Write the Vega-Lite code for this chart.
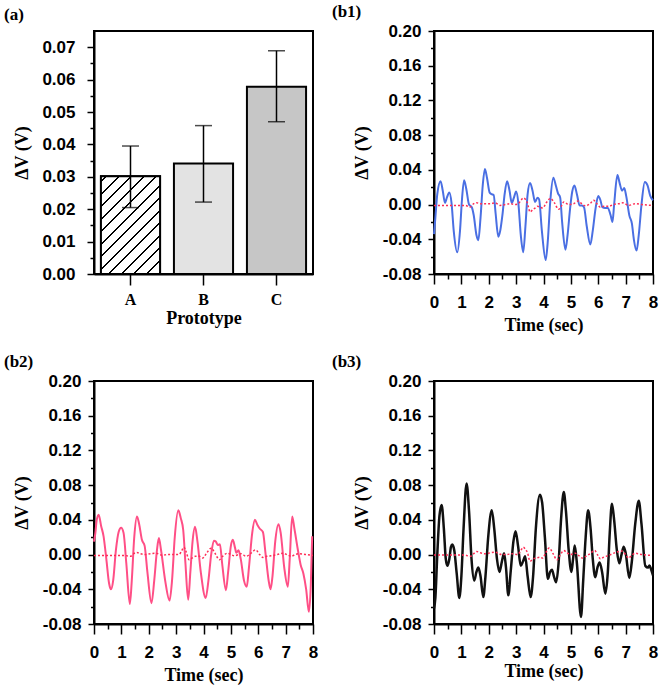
{
  "$schema": "https://vega.github.io/schema/vega-lite/v6.json",
  "bounds": "flush",
  "padding": {"left": 3, "top": 2, "right": 0, "bottom": 0},
  "columns": 2,
  "spacing": {"row": 107, "column": 121},
  "datasets": {
    "bars": [
      {"proto": "A", "mean": 0.0302, "lo": 0.0205, "hi": 0.0395},
      {"proto": "B", "mean": 0.0341, "lo": 0.0222, "hi": 0.0458},
      {"proto": "C", "mean": 0.0578, "lo": 0.0470, "hi": 0.0689}
    ],
    "snr": [
      {"panel": "b1", "label": "Signal to noise ratio: 11.89"},
      {"panel": "b2", "label": "Signal to noise ratio: 13.44"},
      {"panel": "b3", "label": "Signal to noise ratio: 22.89"}
    ],
    "b1": [
      {"t":0.00,"v":-0.034},{"t":0.05,"v":-0.015},{"t":0.12,"v":0.012},{"t":0.24,"v":0.027},{"t":0.32,"v":0.016},{"t":0.40,"v":0.002},{"t":0.47,"v":0.008},{"t":0.56,"v":0.014},{"t":0.64,"v":0.002},{"t":0.72,"v":-0.030},{"t":0.85,"v":-0.055},{"t":0.95,"v":-0.030},{"t":1.02,"v":0.005},{"t":1.10,"v":0.028},{"t":1.18,"v":0.018},{"t":1.28,"v":0.000},{"t":1.38,"v":-0.003},{"t":1.45,"v":-0.012},{"t":1.55,"v":-0.035},{"t":1.62,"v":-0.041},{"t":1.70,"v":-0.015},{"t":1.78,"v":0.022},{"t":1.86,"v":0.041},{"t":1.94,"v":0.030},{"t":2.03,"v":0.014},{"t":2.10,"v":0.012},{"t":2.18,"v":0.011},{"t":2.25,"v":-0.010},{"t":2.35,"v":-0.037},{"t":2.42,"v":-0.030},{"t":2.50,"v":-0.012},{"t":2.58,"v":0.012},{"t":2.67,"v":0.027},{"t":2.76,"v":0.016},{"t":2.84,"v":0.002},{"t":2.92,"v":0.008},{"t":3.00,"v":0.015},{"t":3.08,"v":0.002},{"t":3.17,"v":-0.035},{"t":3.26,"v":-0.055},{"t":3.34,"v":-0.025},{"t":3.42,"v":0.012},{"t":3.51,"v":0.025},{"t":3.60,"v":0.016},{"t":3.69,"v":0.003},{"t":3.78,"v":0.008},{"t":3.84,"v":0.006},{"t":3.94,"v":-0.030},{"t":4.08,"v":-0.064},{"t":4.15,"v":-0.045},{"t":4.25,"v":0.005},{"t":4.36,"v":0.031},{"t":4.45,"v":0.022},{"t":4.53,"v":0.013},{"t":4.61,"v":0.008},{"t":4.68,"v":-0.020},{"t":4.80,"v":-0.052},{"t":4.88,"v":-0.035},{"t":4.97,"v":-0.005},{"t":5.05,"v":0.015},{"t":5.13,"v":0.022},{"t":5.22,"v":0.012},{"t":5.32,"v":-0.001},{"t":5.40,"v":-0.001},{"t":5.48,"v":-0.003},{"t":5.58,"v":-0.025},{"t":5.71,"v":-0.046},{"t":5.80,"v":-0.030},{"t":5.90,"v":-0.005},{"t":6.00,"v":0.010},{"t":6.08,"v":0.005},{"t":6.15,"v":-0.003},{"t":6.25,"v":-0.004},{"t":6.35,"v":-0.004},{"t":6.45,"v":-0.012},{"t":6.52,"v":-0.020},{"t":6.58,"v":0.000},{"t":6.70,"v":0.034},{"t":6.78,"v":0.025},{"t":6.87,"v":0.016},{"t":6.95,"v":0.019},{"t":7.02,"v":0.010},{"t":7.14,"v":-0.013},{"t":7.23,"v":-0.022},{"t":7.30,"v":-0.040},{"t":7.40,"v":-0.053},{"t":7.48,"v":-0.035},{"t":7.58,"v":0.000},{"t":7.70,"v":0.026},{"t":7.80,"v":0.022},{"t":7.90,"v":0.010},{"t":8.00,"v":0.005}
    ],
    "b1n": [
      {"t":0.00,"v":-0.001},{"t":0.50,"v":-0.001},{"t":1.00,"v":-0.001},{"t":1.15,"v":-0.001},{"t":1.31,"v":-0.003},{"t":1.45,"v":0.001},{"t":1.56,"v":0.002},{"t":1.70,"v":0.001},{"t":1.86,"v":0.001},{"t":2.05,"v":0.001},{"t":2.23,"v":0.002},{"t":2.41,"v":-0.001},{"t":2.60,"v":0.000},{"t":2.78,"v":0.001},{"t":2.95,"v":0.000},{"t":3.08,"v":0.001},{"t":3.18,"v":0.005},{"t":3.26,"v":0.0076},{"t":3.34,"v":0.006},{"t":3.41,"v":0.002},{"t":3.51,"v":-0.0086},{"t":3.60,"v":-0.006},{"t":3.69,"v":-0.004},{"t":3.78,"v":-0.002},{"t":3.87,"v":-0.003},{"t":3.97,"v":-0.004},{"t":4.10,"v":0.002},{"t":4.25,"v":0.007},{"t":4.40,"v":0.002},{"t":4.55,"v":-0.0055},{"t":4.65,"v":-0.002},{"t":4.74,"v":0.003},{"t":4.85,"v":0.001},{"t":4.92,"v":0.000},{"t":5.10,"v":0.001},{"t":5.26,"v":0.004},{"t":5.40,"v":0.001},{"t":5.53,"v":-0.0015},{"t":5.70,"v":0.001},{"t":5.83,"v":0.005},{"t":5.95,"v":0.001},{"t":6.08,"v":-0.003},{"t":6.20,"v":-0.002},{"t":6.38,"v":-0.002},{"t":6.55,"v":0.000},{"t":6.75,"v":0.001},{"t":6.90,"v":0.002},{"t":7.11,"v":-0.001},{"t":7.35,"v":0.001},{"t":7.60,"v":0.000},{"t":8.00,"v":-0.001}
    ],
    "b2": [
      {"t":0.00,"v":0.015},{"t":0.05,"v":0.025},{"t":0.10,"v":0.040},{"t":0.17,"v":0.046},{"t":0.26,"v":0.033},{"t":0.35,"v":0.021},{"t":0.45,"v":-0.005},{"t":0.55,"v":-0.033},{"t":0.62,"v":-0.040},{"t":0.70,"v":-0.030},{"t":0.80,"v":0.005},{"t":0.90,"v":0.026},{"t":0.99,"v":0.031},{"t":1.08,"v":0.025},{"t":1.18,"v":-0.010},{"t":1.31,"v":-0.057},{"t":1.38,"v":-0.030},{"t":1.47,"v":0.020},{"t":1.57,"v":0.044},{"t":1.65,"v":0.035},{"t":1.75,"v":0.017},{"t":1.85,"v":0.010},{"t":1.95,"v":-0.020},{"t":2.10,"v":-0.056},{"t":2.20,"v":-0.030},{"t":2.30,"v":0.005},{"t":2.37,"v":0.019},{"t":2.45,"v":0.005},{"t":2.60,"v":-0.030},{"t":2.76,"v":-0.053},{"t":2.85,"v":-0.030},{"t":2.95,"v":0.020},{"t":3.08,"v":0.051},{"t":3.17,"v":0.042},{"t":3.26,"v":0.028},{"t":3.34,"v":-0.010},{"t":3.44,"v":-0.052},{"t":3.52,"v":-0.020},{"t":3.60,"v":0.015},{"t":3.69,"v":0.032},{"t":3.78,"v":0.015},{"t":3.90,"v":-0.020},{"t":4.08,"v":-0.050},{"t":4.18,"v":-0.030},{"t":4.28,"v":0.000},{"t":4.38,"v":0.016},{"t":4.45,"v":0.015},{"t":4.52,"v":0.011},{"t":4.60,"v":0.012},{"t":4.68,"v":-0.010},{"t":4.82,"v":-0.041},{"t":4.90,"v":-0.020},{"t":5.00,"v":0.010},{"t":5.07,"v":0.017},{"t":5.15,"v":0.008},{"t":5.20,"v":0.002},{"t":5.28,"v":0.005},{"t":5.36,"v":-0.005},{"t":5.48,"v":-0.030},{"t":5.58,"v":-0.037},{"t":5.66,"v":-0.015},{"t":5.78,"v":0.025},{"t":5.88,"v":0.040},{"t":5.97,"v":0.034},{"t":6.05,"v":0.030},{"t":6.17,"v":0.026},{"t":6.27,"v":0.000},{"t":6.38,"v":-0.030},{"t":6.45,"v":-0.040},{"t":6.52,"v":-0.025},{"t":6.62,"v":0.015},{"t":6.74,"v":0.035},{"t":6.82,"v":0.025},{"t":6.95,"v":-0.015},{"t":7.08,"v":-0.037},{"t":7.15,"v":-0.005},{"t":7.24,"v":0.044},{"t":7.32,"v":0.030},{"t":7.45,"v":0.005},{"t":7.55,"v":-0.012},{"t":7.65,"v":-0.022},{"t":7.75,"v":-0.040},{"t":7.85,"v":-0.066},{"t":7.92,"v":-0.035},{"t":7.97,"v":0.021}
    ],
    "b2n": [
      {"t":0.00,"v":-0.001},{"t":0.50,"v":-0.001},{"t":1.10,"v":-0.001},{"t":1.33,"v":-0.002},{"t":1.45,"v":0.001},{"t":1.57,"v":0.0024},{"t":1.70,"v":0.001},{"t":1.88,"v":0.000},{"t":2.05,"v":0.001},{"t":2.25,"v":0.0016},{"t":2.49,"v":-0.0007},{"t":2.70,"v":0.000},{"t":2.92,"v":0.000},{"t":3.10,"v":0.000},{"t":3.20,"v":0.004},{"t":3.28,"v":0.0085},{"t":3.37,"v":0.003},{"t":3.47,"v":-0.006},{"t":3.58,"v":-0.004},{"t":3.71,"v":-0.002},{"t":3.85,"v":-0.002},{"t":3.97,"v":-0.004},{"t":4.12,"v":0.002},{"t":4.28,"v":0.0074},{"t":4.43,"v":0.001},{"t":4.58,"v":-0.006},{"t":4.70,"v":-0.002},{"t":4.88,"v":0.0016},{"t":5.00,"v":0.000},{"t":5.13,"v":-0.0014},{"t":5.37,"v":0.001},{"t":5.56,"v":-0.002},{"t":5.75,"v":0.002},{"t":5.90,"v":0.0055},{"t":6.05,"v":0.000},{"t":6.17,"v":-0.0033},{"t":6.30,"v":-0.002},{"t":6.47,"v":-0.0014},{"t":6.70,"v":0.000},{"t":6.90,"v":0.0016},{"t":7.05,"v":0.000},{"t":7.20,"v":-0.002},{"t":7.35,"v":0.000},{"t":7.51,"v":0.001},{"t":7.75,"v":0.000},{"t":8.00,"v":-0.001}
    ],
    "b3": [
      {"t":0.00,"v":-0.062},{"t":0.05,"v":-0.050},{"t":0.12,"v":0.000},{"t":0.20,"v":0.045},{"t":0.28,"v":0.057},{"t":0.36,"v":0.030},{"t":0.43,"v":-0.005},{"t":0.49,"v":-0.013},{"t":0.56,"v":-0.005},{"t":0.62,"v":0.009},{"t":0.67,"v":0.0115},{"t":0.74,"v":0.005},{"t":0.83,"v":-0.022},{"t":0.925,"v":-0.050},{"t":1.00,"v":-0.025},{"t":1.08,"v":0.030},{"t":1.19,"v":0.082},{"t":1.28,"v":0.050},{"t":1.37,"v":-0.005},{"t":1.47,"v":-0.030},{"t":1.55,"v":-0.020},{"t":1.62,"v":-0.015},{"t":1.70,"v":-0.025},{"t":1.80,"v":-0.049},{"t":1.88,"v":-0.025},{"t":1.98,"v":0.020},{"t":2.11,"v":0.051},{"t":2.20,"v":0.030},{"t":2.30,"v":-0.005},{"t":2.39,"v":-0.020},{"t":2.48,"v":-0.008},{"t":2.56,"v":0.0015},{"t":2.63,"v":-0.015},{"t":2.715,"v":-0.047},{"t":2.80,"v":-0.020},{"t":2.90,"v":0.015},{"t":2.98,"v":0.027},{"t":3.07,"v":0.010},{"t":3.17,"v":-0.013},{"t":3.25,"v":-0.008},{"t":3.33,"v":-0.002},{"t":3.42,"v":-0.025},{"t":3.53,"v":-0.049},{"t":3.62,"v":-0.025},{"t":3.72,"v":0.030},{"t":3.87,"v":0.069},{"t":3.95,"v":0.060},{"t":4.05,"v":0.020},{"t":4.16,"v":-0.028},{"t":4.24,"v":-0.020},{"t":4.31,"v":-0.0175},{"t":4.38,"v":-0.025},{"t":4.46,"v":-0.032},{"t":4.55,"v":-0.010},{"t":4.64,"v":0.040},{"t":4.74,"v":0.072},{"t":4.82,"v":0.050},{"t":4.92,"v":0.005},{"t":5.02,"v":-0.020},{"t":5.08,"v":-0.005},{"t":5.14,"v":0.0105},{"t":5.22,"v":-0.010},{"t":5.37,"v":-0.072},{"t":5.45,"v":-0.030},{"t":5.54,"v":0.020},{"t":5.63,"v":0.051},{"t":5.72,"v":0.030},{"t":5.80,"v":-0.005},{"t":5.89,"v":-0.026},{"t":5.97,"v":-0.015},{"t":6.05,"v":-0.009},{"t":6.14,"v":-0.020},{"t":6.26,"v":-0.045},{"t":6.35,"v":-0.020},{"t":6.42,"v":0.025},{"t":6.50,"v":0.0585},{"t":6.58,"v":0.040},{"t":6.68,"v":0.005},{"t":6.77,"v":-0.010},{"t":6.85,"v":0.000},{"t":6.93,"v":0.009},{"t":7.00,"v":0.002},{"t":7.135,"v":-0.027},{"t":7.22,"v":-0.010},{"t":7.35,"v":0.035},{"t":7.48,"v":0.062},{"t":7.58,"v":0.035},{"t":7.72,"v":-0.013},{"t":7.82,"v":-0.015},{"t":7.87,"v":-0.0125},{"t":7.93,"v":-0.017},{"t":8.00,"v":-0.024}
    ],
    "b3n": [
      {"t":0.00,"v":-0.0004},{"t":0.50,"v":-0.0004},{"t":1.10,"v":-0.0004},{"t":1.32,"v":-0.002},{"t":1.45,"v":0.001},{"t":1.56,"v":0.0035},{"t":1.70,"v":0.002},{"t":1.86,"v":0.001},{"t":2.05,"v":0.002},{"t":2.23,"v":0.0027},{"t":2.47,"v":0.000},{"t":2.65,"v":0.000},{"t":2.84,"v":0.001},{"t":3.05,"v":0.000},{"t":3.16,"v":0.004},{"t":3.26,"v":0.0085},{"t":3.34,"v":0.006},{"t":3.41,"v":0.0027},{"t":3.51,"v":-0.0077},{"t":3.62,"v":-0.005},{"t":3.73,"v":-0.004},{"t":3.87,"v":-0.003},{"t":3.97,"v":-0.004},{"t":4.08,"v":0.002},{"t":4.21,"v":0.0077},{"t":4.35,"v":0.001},{"t":4.49,"v":-0.006},{"t":4.60,"v":-0.001},{"t":4.74,"v":0.0046},{"t":4.86,"v":0.002},{"t":4.98,"v":0.000},{"t":5.16,"v":0.0015},{"t":5.28,"v":-0.001},{"t":5.41,"v":-0.004},{"t":5.55,"v":-0.002},{"t":5.70,"v":0.001},{"t":5.87,"v":0.0046},{"t":5.97,"v":0.000},{"t":6.08,"v":-0.005},{"t":6.20,"v":-0.003},{"t":6.38,"v":-0.001},{"t":6.60,"v":0.002},{"t":6.87,"v":0.004},{"t":7.00,"v":0.000},{"t":7.11,"v":-0.004},{"t":7.22,"v":-0.001},{"t":7.35,"v":0.0015},{"t":7.60,"v":0.000},{"t":7.96,"v":-0.001}
    ]
  },
  "concat": [
    {
      "title": {"text": "(a)", "dx": -90, "offset": 7},
      "width": 219, "height": 243,
      "data": {"name": "bars"},
      "encoding": {
        "x": {"field": "proto", "type": "nominal",
          "scale": {"paddingInner": 0.19, "paddingOuter": 0.095},
          "axis": {"title": "Prototype", "labelAngle": 0, "labelFont": "Liberation Serif", "labelFontSize": 16, "ticks": true, "tickSize": 11, "bandPosition": 0.5, "labelPadding": 6, "labelBaseline": "top", "titlePadding": 2}}
      },
      "layer": [
        {
          "mark": {"type": "bar", "stroke": "black", "strokeWidth": 2},
          "encoding": {
            "y": {"field": "mean", "type": "quantitative", "stack": null,
              "scale": {"domain": [0, 0.075], "nice": false},
              "axis": {"title": "ΔV (V)", "ticks": true, "labelOverlap": false,
                "values": [0,0.005,0.01,0.015,0.02,0.025,0.03,0.035,0.04,0.045,0.05,0.055,0.06,0.065,0.07],
                "labelExpr": "round(datum.value*1000) % 10 == 0 ? format(datum.value, '.2f') : ''",
                "tickSize": {"condition": {"test": "round(datum.value*1000) % 10 == 0", "value": 7}, "value": 4},
                "labelPadding": 12, "minExtent": 55, "maxExtent": 55, "titlePadding": 8}},
            "fill": {"condition": [
              {"test": "datum.proto === 'B'", "value": "#e3e3e3"},
              {"test": "datum.proto === 'C'", "value": "#c6c6c6"}], "value": "white"}
          }
        },
        {
          "transform": [{"filter": "datum.proto === 'A'"}],
          "mark": {"type": "bar", "stroke": "black", "strokeWidth": 2,
            "fill": {"gradient": "linear", "x1": 0, "y1": 0, "x2": 0.71, "y2": 1.176,
              "stops": [
                {"offset": 0, "color": "white"},
                {"offset": 0.0308, "color": "white"},{"offset": 0.0308, "color": "black"},{"offset": 0.0418, "color": "black"},{"offset": 0.0418, "color": "white"},
                {"offset": 0.1104, "color": "white"},{"offset": 0.1104, "color": "black"},{"offset": 0.1214, "color": "black"},{"offset": 0.1214, "color": "white"},
                {"offset": 0.19, "color": "white"},{"offset": 0.19, "color": "black"},{"offset": 0.201, "color": "black"},{"offset": 0.201, "color": "white"},
                {"offset": 0.2696, "color": "white"},{"offset": 0.2696, "color": "black"},{"offset": 0.2806, "color": "black"},{"offset": 0.2806, "color": "white"},
                {"offset": 0.3492, "color": "white"},{"offset": 0.3492, "color": "black"},{"offset": 0.3602, "color": "black"},{"offset": 0.3602, "color": "white"},
                {"offset": 0.4288, "color": "white"},{"offset": 0.4288, "color": "black"},{"offset": 0.4398, "color": "black"},{"offset": 0.4398, "color": "white"},
                {"offset": 0.5084, "color": "white"},{"offset": 0.5084, "color": "black"},{"offset": 0.5194, "color": "black"},{"offset": 0.5194, "color": "white"},
                {"offset": 0.588, "color": "white"},{"offset": 0.588, "color": "black"},{"offset": 0.599, "color": "black"},{"offset": 0.599, "color": "white"},
                {"offset": 0.6676, "color": "white"},{"offset": 0.6676, "color": "black"},{"offset": 0.6786, "color": "black"},{"offset": 0.6786, "color": "white"},
                {"offset": 0.7472, "color": "white"},{"offset": 0.7472, "color": "black"},{"offset": 0.7582, "color": "black"},{"offset": 0.7582, "color": "white"},
                {"offset": 0.8268, "color": "white"},{"offset": 0.8268, "color": "black"},{"offset": 0.8378, "color": "black"},{"offset": 0.8378, "color": "white"},
                {"offset": 0.9064, "color": "white"},{"offset": 0.9064, "color": "black"},{"offset": 0.9174, "color": "black"},{"offset": 0.9174, "color": "white"},
                {"offset": 0.986, "color": "white"},{"offset": 0.986, "color": "black"},{"offset": 0.997, "color": "black"},{"offset": 0.997, "color": "white"},
                {"offset": 1, "color": "white"}
              ]}},
          "encoding": {"y": {"field": "mean", "type": "quantitative", "stack": null,
              "axis": {"title": "ΔV (V)", "ticks": true, "labelOverlap": false,
                "values": [0,0.005,0.01,0.015,0.02,0.025,0.03,0.035,0.04,0.045,0.05,0.055,0.06,0.065,0.07],
                "labelExpr": "round(datum.value*1000) % 10 == 0 ? format(datum.value, '.2f') : ''",
                "tickSize": {"condition": {"test": "round(datum.value*1000) % 10 == 0", "value": 7}, "value": 4},
                "labelPadding": 12, "minExtent": 55, "maxExtent": 55, "titlePadding": 8}}}
        },
        {
          "mark": {"type": "rule", "color": "black", "strokeWidth": 1.5},
          "encoding": {"y": {"field": "lo", "type": "quantitative",
              "axis": {"title": "ΔV (V)", "ticks": true, "labelOverlap": false,
                "values": [0,0.005,0.01,0.015,0.02,0.025,0.03,0.035,0.04,0.045,0.05,0.055,0.06,0.065,0.07],
                "labelExpr": "round(datum.value*1000) % 10 == 0 ? format(datum.value, '.2f') : ''",
                "tickSize": {"condition": {"test": "round(datum.value*1000) % 10 == 0", "value": 7}, "value": 4},
                "labelPadding": 12, "minExtent": 55, "maxExtent": 55, "titlePadding": 8}}, "y2": {"field": "hi"}}
        },
        {
          "mark": {"type": "tick", "color": "black", "thickness": 1.5, "size": 17},
          "encoding": {"y": {"field": "lo", "type": "quantitative",
              "axis": {"title": "ΔV (V)", "ticks": true, "labelOverlap": false,
                "values": [0,0.005,0.01,0.015,0.02,0.025,0.03,0.035,0.04,0.045,0.05,0.055,0.06,0.065,0.07],
                "labelExpr": "round(datum.value*1000) % 10 == 0 ? format(datum.value, '.2f') : ''",
                "tickSize": {"condition": {"test": "round(datum.value*1000) % 10 == 0", "value": 7}, "value": 4},
                "labelPadding": 12, "minExtent": 55, "maxExtent": 55, "titlePadding": 8}}}
        },
        {
          "mark": {"type": "tick", "color": "black", "thickness": 1.5, "size": 17},
          "encoding": {"y": {"field": "hi", "type": "quantitative",
              "axis": {"title": "ΔV (V)", "ticks": true, "labelOverlap": false,
                "values": [0,0.005,0.01,0.015,0.02,0.025,0.03,0.035,0.04,0.045,0.05,0.055,0.06,0.065,0.07],
                "labelExpr": "round(datum.value*1000) % 10 == 0 ? format(datum.value, '.2f') : ''",
                "tickSize": {"condition": {"test": "round(datum.value*1000) % 10 == 0", "value": 7}, "value": 4},
                "labelPadding": 12, "minExtent": 55, "maxExtent": 55, "titlePadding": 8}}}
        }
      ]
    },
    {
      "title": {"text": "(b1)", "dx": -102, "offset": 1},
      "width": 219, "height": 243,
      "encoding": {
        "x": {"field": "t", "type": "quantitative", "scale": {"domain": [0, 8], "nice": false, "zero": false},
          "axis": {"title": "Time (sec)", "values": [0,0.5,1,1.5,2,2.5,3,3.5,4,4.5,5,5.5,6,6.5,7,7.5,8],
            "labelExpr": "datum.value % 1 == 0 ? format(datum.value, 'd') : ''",
            "tickSize": {"condition": {"test": "datum.value % 1 == 0", "value": 10}, "value": 5},
            "labelPadding": 10, "titlePadding": 6}},
        "y": {"field": "v", "type": "quantitative", "scale": {"domain": [-0.08, 0.2], "nice": false, "zero": false},
          "axis": {"title": "ΔV (V)", "values": [-0.08,-0.06,-0.04,-0.02,0,0.02,0.04,0.06,0.08,0.1,0.12,0.14,0.16,0.18,0.2],
            "labelExpr": "abs(round(datum.value*100)) % 4 == 0 ? replace(format(datum.value, '.2f'), '\u2212', '-') : ''",
            "tickSize": {"condition": {"test": "abs(round(datum.value*100)) % 4 == 0", "value": 6}, "value": 3.5},
            "labelPadding": 7, "minExtent": 55, "maxExtent": 55, "titlePadding": 8}}
      },
      "layer": [
        {"data": {"name": "b1"}, "mark": {"type": "line", "color": "#4a6fe3", "strokeWidth": 2, "interpolate": "monotone"}},
        {"data": {"name": "b1n"}, "mark": {"type": "line", "color": "#ff2d55", "strokeWidth": 1.5, "strokeDash": [2, 2], "interpolate": "monotone"}},
        {"data": {"name": "snr"}, "transform": [{"filter": "datum.panel === 'b1'"}],
          "mark": {"type": "text", "align": "left", "baseline": "middle", "font": "Liberation Serif", "fontWeight": "bold", "fontSize": 16, "color": "black"},
          "encoding": {"x": {"datum": 0.07}, "y": {"datum": 0.184}, "text": {"field": "label"}}}
      ]
    },
    {
      "title": {"text": "(b2)", "dx": -90, "offset": 1},
      "width": 219, "height": 243,
      "encoding": {
        "x": {"field": "t", "type": "quantitative", "scale": {"domain": [0, 8], "nice": false, "zero": false},
          "axis": {"title": "Time (sec)", "values": [0,0.5,1,1.5,2,2.5,3,3.5,4,4.5,5,5.5,6,6.5,7,7.5,8],
            "labelExpr": "datum.value % 1 == 0 ? format(datum.value, 'd') : ''",
            "tickSize": {"condition": {"test": "datum.value % 1 == 0", "value": 10}, "value": 5},
            "labelPadding": 10, "titlePadding": 6}},
        "y": {"field": "v", "type": "quantitative", "scale": {"domain": [-0.08, 0.2], "nice": false, "zero": false},
          "axis": {"title": "ΔV (V)", "values": [-0.08,-0.06,-0.04,-0.02,0,0.02,0.04,0.06,0.08,0.1,0.12,0.14,0.16,0.18,0.2],
            "labelExpr": "abs(round(datum.value*100)) % 4 == 0 ? replace(format(datum.value, '.2f'), '\u2212', '-') : ''",
            "tickSize": {"condition": {"test": "abs(round(datum.value*100)) % 4 == 0", "value": 6}, "value": 3.5},
            "labelPadding": 7, "minExtent": 55, "maxExtent": 55, "titlePadding": 8}}
      },
      "layer": [
        {"data": {"name": "b2"}, "mark": {"type": "line", "color": "#ff4f86", "strokeWidth": 2, "interpolate": "monotone"}},
        {"data": {"name": "b2n"}, "mark": {"type": "line", "color": "#ff2d55", "strokeWidth": 1.5, "strokeDash": [2, 2], "interpolate": "monotone"}},
        {"data": {"name": "snr"}, "transform": [{"filter": "datum.panel === 'b2'"}],
          "mark": {"type": "text", "align": "left", "baseline": "middle", "font": "Liberation Serif", "fontWeight": "bold", "fontSize": 16, "color": "black"},
          "encoding": {"x": {"datum": 0.07}, "y": {"datum": 0.184}, "text": {"field": "label"}}}
      ]
    },
    {
      "title": {"text": "(b3)", "dx": -102, "offset": 1},
      "width": 219, "height": 243,
      "encoding": {
        "x": {"field": "t", "type": "quantitative", "scale": {"domain": [0, 8], "nice": false, "zero": false},
          "axis": {"title": "Time (sec)", "values": [0,0.5,1,1.5,2,2.5,3,3.5,4,4.5,5,5.5,6,6.5,7,7.5,8],
            "labelExpr": "datum.value % 1 == 0 ? format(datum.value, 'd') : ''",
            "tickSize": {"condition": {"test": "datum.value % 1 == 0", "value": 10}, "value": 5},
            "labelPadding": 10, "titlePadding": 2}},
        "y": {"field": "v", "type": "quantitative", "scale": {"domain": [-0.08, 0.2], "nice": false, "zero": false},
          "axis": {"title": "ΔV (V)", "values": [-0.08,-0.06,-0.04,-0.02,0,0.02,0.04,0.06,0.08,0.1,0.12,0.14,0.16,0.18,0.2],
            "labelExpr": "abs(round(datum.value*100)) % 4 == 0 ? replace(format(datum.value, '.2f'), '\u2212', '-') : ''",
            "tickSize": {"condition": {"test": "abs(round(datum.value*100)) % 4 == 0", "value": 6}, "value": 3.5},
            "labelPadding": 7, "minExtent": 55, "maxExtent": 55, "titlePadding": 8}}
      },
      "layer": [
        {"data": {"name": "b3"}, "mark": {"type": "line", "color": "#111111", "strokeWidth": 2.5, "interpolate": "monotone"}},
        {"data": {"name": "b3n"}, "mark": {"type": "line", "color": "#ff2d55", "strokeWidth": 1.5, "strokeDash": [2, 2], "interpolate": "monotone"}},
        {"data": {"name": "snr"}, "transform": [{"filter": "datum.panel === 'b3'"}],
          "mark": {"type": "text", "align": "left", "baseline": "middle", "font": "Liberation Serif", "fontWeight": "bold", "fontSize": 16, "color": "black"},
          "encoding": {"x": {"datum": 0.1}, "y": {"datum": 0.184}, "text": {"field": "label"}}}
      ]
    }
  ],
  "config": {
    "background": "white",
    "view": {"stroke": "black", "strokeWidth": 2},
    "title": {"font": "Liberation Serif", "fontSize": 17, "fontWeight": "bold", "anchor": "start", "frame": "group", "color": "black"},
    "axis": {"domainColor": "black", "domainWidth": 2, "tickColor": "black", "tickWidth": 1.5,
      "labelColor": "black", "labelFont": "Liberation Sans", "labelFontWeight": "bold", "labelFontSize": 17,
      "titleColor": "black", "titleFont": "Liberation Serif", "titleFontWeight": "bold", "titleFontSize": 18,
      "grid": false, "labelOverlap": false, "labelFlush": false}
  }
}
